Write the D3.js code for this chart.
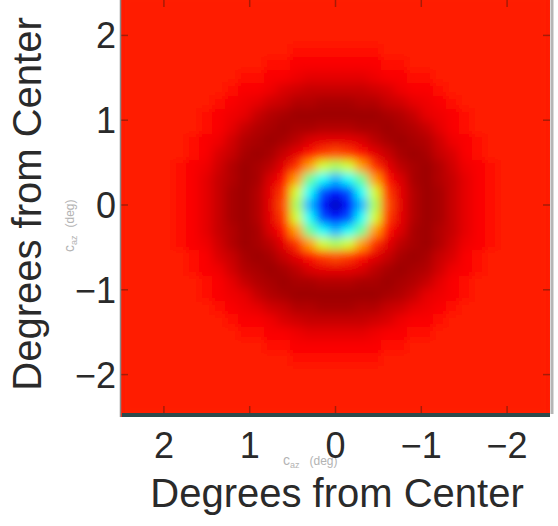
<!DOCTYPE html>
<html>
<head>
<meta charset="utf-8">
<script src="https://cdn.jsdelivr.net/npm/d3@7"></script>
<style>
  body { margin: 0; background: #fff; }
  svg { display: block; }
</style>
</head>
<body>
<div id="chart"></div>
<script>
// Receptive field map: one row per line, top of the map first.
// Values are positions on the jet colour map (0 = dark blue, 100 = dark red)
const fieldRows = [
  [85,85,85,85,85,85,85,85,85,85,85,85,85,85,85,85,85,85,85,85,85,85,85,85,85,85,85,85,85,85,85,85,85],
  [85,85,85,85,85,85,85,85,85,85,85,85,85,85,85,85,85,85,85,85,85,85,85,85,85,85,85,85,85,85,85,85,85],
  [85,85,85,85,85,85,85,85,85,85,85,85,85,85,85,85,85,85,85,85,85,85,85,85,85,85,85,85,85,85,85,85,85],
  [85,85,85,85,85,85,85,85,85,85,85,85,85,85,85,85,85,85,85,85,85,85,85,85,85,85,85,85,85,85,85,85,85],
  [85,85,85,85,85,85,85,85,85,85,85,85,85,86,86,86,86,86,86,86,85,85,85,85,85,85,85,85,85,85,85,85,85],
  [85,85,85,85,85,85,85,85,85,85,85,86,86,88,88,88,88,88,88,88,86,86,85,85,85,85,85,85,85,85,85,85,85],
  [85,85,85,85,85,85,85,85,85,86,86,88,88,89,90,90,90,90,90,89,88,88,86,86,85,85,85,85,85,85,85,85,85],
  [85,85,85,85,85,85,85,85,86,88,88,89,91,92,93,93,93,93,93,92,91,89,88,88,86,85,85,85,85,85,85,85,85],
  [85,85,85,85,85,85,85,86,88,89,90,92,93,95,95,96,96,96,95,95,93,92,90,89,88,86,85,85,85,85,85,85,85],
  [85,85,85,85,85,85,86,88,89,90,93,95,96,97,97,97,97,97,97,97,96,95,93,90,89,88,86,85,85,85,85,85,85],
  [85,85,85,85,85,85,86,88,90,93,95,96,97,96,96,95,95,95,96,96,97,96,95,93,90,88,86,85,85,85,85,85,85],
  [85,85,85,85,85,86,88,89,92,95,96,97,96,94,91,90,90,90,91,94,96,97,96,95,92,89,88,86,85,85,85,85,85],
  [85,85,85,85,85,86,88,91,93,96,97,96,93,90,86,82,80,82,86,90,93,96,97,96,93,91,88,86,85,85,85,85,85],
  [85,85,85,85,86,88,89,92,95,97,96,94,90,83,72,58,54,58,72,83,90,94,96,97,95,92,89,88,86,85,85,85,85],
  [85,85,85,85,86,88,90,93,95,97,96,91,86,72,48,38,30,38,48,72,86,91,96,97,95,93,90,88,86,85,85,85,85],
  [85,85,85,85,86,88,90,93,96,97,95,90,82,58,38,20,14,20,38,58,82,90,95,97,96,93,90,88,86,85,85,85,85],
  [85,85,85,85,86,88,90,93,96,97,95,90,80,54,30,14, 6,14,30,54,80,90,95,97,96,93,90,88,86,85,85,85,85],
  [85,85,85,85,86,88,90,93,96,97,95,90,82,58,38,20,14,20,38,58,82,90,95,97,96,93,90,88,86,85,85,85,85],
  [85,85,85,85,86,88,90,93,95,97,96,91,86,72,48,38,30,38,48,72,86,91,96,97,95,93,90,88,86,85,85,85,85],
  [85,85,85,85,86,88,89,92,95,97,96,94,90,83,72,58,54,58,72,83,90,94,96,97,95,92,89,88,86,85,85,85,85],
  [85,85,85,85,85,86,88,91,93,96,97,96,93,90,86,82,80,82,86,90,93,96,97,96,93,91,88,86,85,85,85,85,85],
  [85,85,85,85,85,86,88,89,92,95,96,97,96,94,91,90,90,90,91,94,96,97,96,95,92,89,88,86,85,85,85,85,85],
  [85,85,85,85,85,85,86,88,90,93,95,96,97,96,96,95,95,95,96,96,97,96,95,93,90,88,86,85,85,85,85,85,85],
  [85,85,85,85,85,85,86,88,89,90,93,95,96,97,97,97,97,97,97,97,96,95,93,90,89,88,86,85,85,85,85,85,85],
  [85,85,85,85,85,85,85,86,88,89,90,92,93,95,95,96,96,96,95,95,93,92,90,89,88,86,85,85,85,85,85,85,85],
  [85,85,85,85,85,85,85,85,86,88,88,89,91,92,93,93,93,93,93,92,91,89,88,88,86,85,85,85,85,85,85,85,85],
  [85,85,85,85,85,85,85,85,85,86,86,88,88,89,90,90,90,90,90,89,88,88,86,86,85,85,85,85,85,85,85,85,85],
  [85,85,85,85,85,85,85,85,85,85,85,86,86,88,88,88,88,88,88,88,86,86,85,85,85,85,85,85,85,85,85,85,85],
  [85,85,85,85,85,85,85,85,85,85,85,85,85,86,86,86,86,86,86,86,85,85,85,85,85,85,85,85,85,85,85,85,85],
  [85,85,85,85,85,85,85,85,85,85,85,85,85,85,85,85,85,85,85,85,85,85,85,85,85,85,85,85,85,85,85,85,85],
  [85,85,85,85,85,85,85,85,85,85,85,85,85,85,85,85,85,85,85,85,85,85,85,85,85,85,85,85,85,85,85,85,85],
  [85,85,85,85,85,85,85,85,85,85,85,85,85,85,85,85,85,85,85,85,85,85,85,85,85,85,85,85,85,85,85,85,85],
  [85,85,85,85,85,85,85,85,85,85,85,85,85,85,85,85,85,85,85,85,85,85,85,85,85,85,85,85,85,85,85,85,85]
]

// Ticks, in degrees from the centre, and their labels
const xTicks = [2, 1, 0, -1, -2]
const xTickLabels = ['2', '1', '0', '\u22121', '\u22122']
const yTicks = [2, 1, 0, -1, -2]
const yTickLabels = ['2', '1', '0', '\u22121', '\u22122']
const extent = [-2.5, 2.5]
const backgroundLevel = 85

const axisTitle = 'Degrees from Center'

const dimensions = { width: 558, height: 526 }
const plot = { left: 121, right: 550, top: -7, bottom: 417 }
const font = '"Liberation Sans", Arial, Helvetica, sans-serif'

// jet colour map
const jet = d3.scaleLinear()
  .domain([0, 12.5, 37.5, 62.5, 87.5, 100])
  .range(['#000080', '#0000ff', '#00ffff', '#ffff00', '#ff0000', '#800000'])

// x runs from +2.5 on the left to -2.5 on the right
const x = d3.scaleLinear().domain([extent[1], extent[0]]).range([plot.left, plot.right])
const y = d3.scaleLinear().domain(extent).range([plot.bottom, plot.top])

const nCols = fieldRows[0].length
const nRows = fieldRows.length
const col = d3.scaleBand().domain(d3.range(nCols)).range([x(extent[1]), x(extent[0])])
const row = d3.scaleBand().domain(d3.range(nRows)).range([y(extent[1]), y(extent[0])])

const svg = d3.select('#chart')
  .append('svg')
  .attr('width', dimensions.width)
  .attr('height', dimensions.height)

const defs = svg.append('defs')
defs.append('clipPath').attr('id', 'plotClip')
  .append('rect')
  .attr('x', plot.left).attr('y', plot.top)
  .attr('width', plot.right - plot.left).attr('height', plot.bottom - plot.top)

const blur = defs.append('filter').attr('id', 'soft')
  .attr('x', '-5%').attr('y', '-5%').attr('width', '110%').attr('height', '110%')
blur.append('feGaussianBlur').attr('stdDeviation', 4.6).attr('edgeMode', 'duplicate')

const field = svg.append('g').attr('clip-path', 'url(#plotClip)')

field.append('rect')
  .attr('x', plot.left).attr('y', plot.top)
  .attr('width', plot.right - plot.left).attr('height', plot.bottom - plot.top)
  .attr('fill', jet(backgroundLevel))

// one rect per cell, blurred to look like the smoothed image
const cells = fieldRows.flatMap((r, j) => r.map((v, i) => ({ i, j, v })))
field.append('g')
  .attr('filter', 'url(#soft)')
  .selectAll('rect')
  .data(cells)
  .join('rect')
  .attr('x', d => col(d.i))
  .attr('y', d => row(d.j))
  .attr('width', col.bandwidth() + 0.6)
  .attr('height', row.bandwidth() + 0.6)
  .attr('fill', d => jet(d.v))

// small inward tick marks on all four sides
const tickLen = 7
const ticks = svg.append('g').attr('stroke', '#3a1a10').attr('stroke-opacity', 0.45).attr('stroke-width', 1.5)
ticks.selectAll('.tb').data(xTicks).join('line')
  .attr('x1', d => x(d)).attr('x2', d => x(d))
  .attr('y1', 0).attr('y2', tickLen)
ticks.selectAll('.bt').data(xTicks).join('line')
  .attr('x1', d => x(d)).attr('x2', d => x(d))
  .attr('y1', 413).attr('y2', 413 - tickLen)
ticks.selectAll('.lt').data(yTicks).join('line')
  .attr('x1', plot.left).attr('x2', plot.left + tickLen)
  .attr('y1', d => y(d)).attr('y2', d => y(d))
ticks.selectAll('.rt').data(yTicks).join('line')
  .attr('x1', plot.right).attr('x2', plot.right - tickLen)
  .attr('y1', d => y(d)).attr('y2', d => y(d))

// frame
svg.append('line')
  .attr('x1', plot.left + 1).attr('x2', plot.right)
  .attr('y1', 415).attr('y2', 415)
  .attr('stroke', '#2c4a4c').attr('stroke-width', 4)
svg.append('line')
  .attr('x1', plot.left - 0.5).attr('x2', plot.left - 0.5)
  .attr('y1', 0).attr('y2', 417)
  .attr('stroke', '#8a8a8a').attr('stroke-width', 1.5)
svg.append('line')
  .attr('x1', plot.right + 2).attr('x2', plot.right + 2)
  .attr('y1', 0).attr('y2', 414)
  .attr('stroke', '#b5b5b5').attr('stroke-width', 3)

// faint unit labels behind the tick labels
const unitX = svg.append('text')
  .attr('x', 283).attr('y', 465)
  .attr('font-family', font).attr('fill', '#b3b3b3')
unitX.append('tspan').attr('font-size', 14).text('c')
unitX.append('tspan').attr('font-size', 9).attr('dy', 3).text('az')
unitX.append('tspan').attr('font-size', 12).attr('dy', -3).attr('dx', 10).text('(deg)')

const unitY = svg.append('text')
  .attr('transform', 'translate(74,252) rotate(-90)')
  .attr('font-family', font).attr('fill', '#b3b3b3')
unitY.append('tspan').attr('font-size', 14).text('c')
unitY.append('tspan').attr('font-size', 9).attr('dy', 3).text('az')
unitY.append('tspan').attr('font-size', 12).attr('dy', -3).attr('dx', 8).text('(deg)')

// tick labels
svg.append('g')
  .selectAll('text')
  .data(xTicks)
  .join('text')
  .attr('x', d => x(d))
  .attr('y', 458)
  .attr('text-anchor', 'middle')
  .attr('font-family', font)
  .attr('font-size', 36)
  .attr('fill', '#2a2a2a')
  .text((d, i) => xTickLabels[i])

svg.append('g')
  .selectAll('text')
  .data(yTicks)
  .join('text')
  .attr('x', 116)
  .attr('y', d => y(d))
  .attr('dy', '0.36em')
  .attr('text-anchor', 'end')
  .attr('font-family', font)
  .attr('font-size', 36)
  .attr('fill', '#2a2a2a')
  .text((d, i) => yTickLabels[i])

// axis titles
svg.append('text')
  .attr('x', 337)
  .attr('y', 507)
  .attr('text-anchor', 'middle')
  .attr('font-family', font)
  .attr('font-size', 40)
  .attr('fill', '#2a2a2a')
  .text(axisTitle)

svg.append('text')
  .attr('transform', 'translate(41,204) rotate(-90)')
  .attr('text-anchor', 'middle')
  .attr('font-family', font)
  .attr('font-size', 40)
  .attr('fill', '#2a2a2a')
  .text(axisTitle)
</script>
</body>
</html>
